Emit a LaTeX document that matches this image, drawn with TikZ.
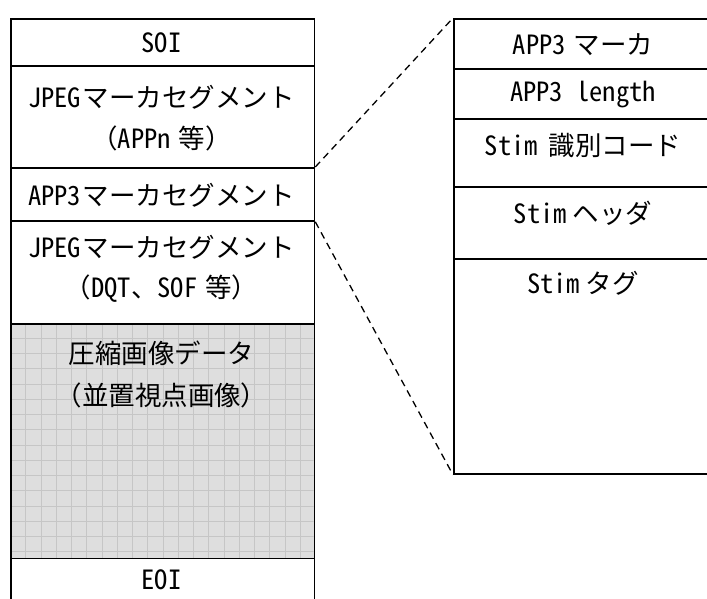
\documentclass[tikz,border=0pt]{standalone}
\usepackage{fontspec}
\setmainfont{Noto Sans CJK JP}[RawFeature=+hwid]
\newfontfamily\fw{Noto Sans CJK JP}
\definecolor{gridfill}{RGB}{222,222,222}
\definecolor{gridline}{RGB}{198,198,198}
\begin{document}
\begin{tikzpicture}[x=1pt,y=-1pt,
  rowbox/.style={draw=black, line width=1.8pt, anchor=north west, inner sep=0pt},
  txt/.style={font=\fontsize{26.5}{28}\selectfont, inner sep=0pt, anchor=center},
  zoomline/.style={draw=black, line width=1.3pt, dash pattern=on 7pt off 5pt}]
\useasboundingbox (0,0) rectangle (707,599);
% grid area
\fill[gridfill] (10,323) rectangle (313.5,557.5);
\begin{scope}
\clip (10,323) rectangle (313.5,557.5);
\draw[gridline, line width=0.8pt, shift={(10.5,323)}, step=15.25pt] (-20,-20) grid (320,250);
\end{scope}
% left rows
\node[rowbox, minimum width=303.5pt, minimum height=47pt] (soi) at (10,18) {};
\node[rowbox, minimum width=303.5pt, minimum height=102pt] (appn) at (10,65) {};
\node[rowbox, minimum width=303.5pt, minimum height=53pt] (app3) at (10,167) {};
\node[rowbox, minimum width=303.5pt, minimum height=103pt] (dqt) at (10,220) {};
\node[rowbox, minimum width=303.5pt, minimum height=234.5pt] (img) at (10,323) {};
\node[rowbox, minimum width=303.5pt, minimum height=60pt] (eoi) at (10,557.5) {};
% right rows
\node[rowbox, minimum width=270pt, minimum height=50pt] (r1) at (453,18) {};
\node[rowbox, minimum width=270pt, minimum height=50pt] (r2) at (453,68) {};
\node[rowbox, minimum width=270pt, minimum height=68pt] (r3) at (453,118) {};
\node[rowbox, minimum width=270pt, minimum height=72pt] (r4) at (453,186) {};
\node[rowbox, minimum width=270pt, minimum height=215pt] (r5) at (453,258) {};
% left texts
\node[txt] (tsoi) at (161.5,43) {SOI};
\node[txt] (tappn1) at (161.5,97) {JPEG\hspace{2pt}マーカセグメント};
\node[txt] (tappn2) at (161.5,138) {{\fw （}APPn\hspace{8pt}等{\fw ）}};
\node[txt] (tapp3) at (161.5,195) {APP3\hspace{2pt}マーカセグメント};
\node[txt] (tdqt1) at (161.5,247) {JPEG\hspace{2pt}マーカセグメント};
\node[txt] (tdqt2) at (161.5,289) {{\fw （}DQT{\fw 、}SOF\hspace{8pt}等{\fw ）}};
\node[txt] (timg1) at (161.5,353) {圧縮画像データ};
\node[txt] (timg2) at (161.5,395) {{\fw （}並置視点画像{\fw ）}};
\node[txt] (teoi) at (161.5,580) {EOI};
% right texts
\node[txt] (tr1) at (583,45) {APP3\hspace{8pt}マーカ};
\node[txt] (tr2) at (583,95) {APP3 length};
\node[txt] (tr3) at (583,145) {Stim\hspace{11pt}識別コード};
\node[txt] (tr4) at (583,213) {Stim\hspace{6pt}ヘッダ};
\node[txt] (tr5) at (583,283) {Stim\hspace{6pt}タグ};
% dashed zoom lines
\draw[zoomline] (app3.north east) -- (r1.north west);
\draw[zoomline] (app3.south east) -- (r5.south west);
\end{tikzpicture}
\end{document}
